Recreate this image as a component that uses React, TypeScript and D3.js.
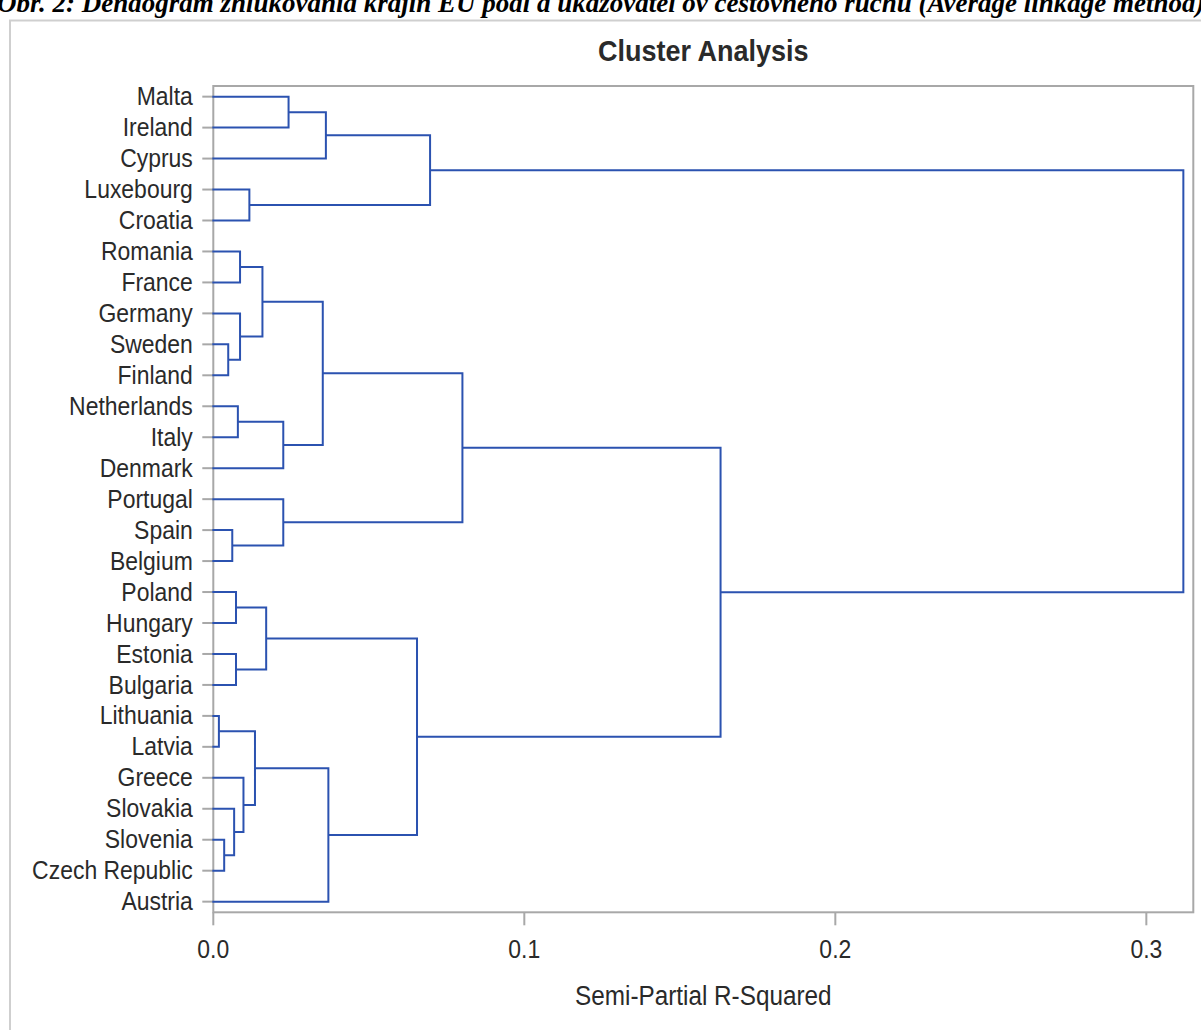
import React from "react";
import * as d3 from "d3";

// ---- data ----
const leaves: string[] = [
  "Malta", "Ireland", "Cyprus", "Luxebourg", "Croatia", "Romania", "France",
  "Germany", "Sweden", "Finland", "Netherlands", "Italy", "Denmark", "Portugal",
  "Spain", "Belgium", "Poland", "Hungary", "Estonia", "Bulgaria", "Lithuania",
  "Latvia", "Greece", "Slovakia", "Slovenia", "Czech Republic", "Austria",
];

const mergeIds: string[] = [
  "CL1", "CL2", "CL3", "CL4", "CL5", "CL6", "CL7", "CL8", "CL9", "CL10", "CL11",
  "CL12", "CL13", "CL14", "CL15", "CL16", "CL17", "CL18", "CL19", "CL20", "CL21",
  "CL22", "CL23", "CL24", "CL25", "CL26",
];
const mergeLeft: string[] = [
  "Lithuania", "Slovenia", "Sweden", "Spain", "Slovakia", "Poland", "Estonia",
  "Netherlands", "Romania", "Germany", "Greece", "Luxebourg", "CL1", "CL9", "CL6",
  "CL8", "Portugal", "Malta", "CL14", "CL18", "CL13", "CL15", "CL20", "CL19",
  "CL24", "CL23",
];
const mergeRight: string[] = [
  "Latvia", "Czech Republic", "Finland", "Belgium", "CL2", "Hungary", "Bulgaria",
  "Italy", "France", "CL3", "CL5", "Croatia", "CL11", "CL10", "CL7", "Denmark",
  "CL4", "Ireland", "CL16", "Cyprus", "Austria", "CL21", "CL12", "CL17", "CL22",
  "CL25",
];
const mergeHeight: number[] = [
  0.0018, 0.0035, 0.0048, 0.0061, 0.0067, 0.0073, 0.0073, 0.0079, 0.0086, 0.0086,
  0.0097, 0.0116, 0.0134, 0.0158, 0.0170, 0.0225, 0.0225, 0.0242, 0.0352, 0.0362,
  0.0370, 0.0655, 0.0697, 0.0801, 0.1631, 0.3119,
];

const xTicks: number[] = [0, 0.1, 0.2, 0.3];
const xDomainMax = 0.3151;

const captionText =
  "Obr. 2: Dendogram zhlukovania krajín EÚ podľa ukazovateľov cestovného ruchu (Average linkage method)";
const titleText = "Cluster Analysis";
const xLabelText = "Semi-Partial R-Squared";

// ---- layout ----
const W = 1201;
const H = 1030;
const PL = 213.3;
const PR = 1193.3;
const PT = 86;
const PB = 912.3;

const LINE = "#2b52b0";
const AXIS = "#a8a8a8";
const TEXT = "#2a2a2a";
const FONT = "'Liberation Sans', Arial, sans-serif";
const SX = 0.9;

type TNode = { id: string; height: number; children?: TNode[] };

export default function App() {
  const x = d3.scaleLinear().domain([0, xDomainMax]).range([PL, PR]);
  const y = d3.scalePoint<string>().domain(leaves).range([PT, PB]).padding(0.344);

  const map = new Map<string, TNode>();
  leaves.forEach((l) => map.set(l, { id: l, height: 0 }));
  mergeIds.forEach((id, i) => {
    map.set(id, {
      id,
      height: mergeHeight[i],
      children: [map.get(mergeLeft[i])!, map.get(mergeRight[i])!],
    });
  });
  const root = d3.hierarchy<TNode>(map.get(mergeIds[mergeIds.length - 1])!);
  const ypos = new Map<any, number>();
  root.eachAfter((n) => {
    if (n.children) ypos.set(n, d3.mean(n.children, (c) => ypos.get(c)!)!);
    else ypos.set(n, y(n.data.id)!);
  });

  const p = d3.path();
  root.links().forEach(({ source, target }) => {
    const cy = ypos.get(target)!;
    const py = ypos.get(source)!;
    p.moveTo(x(target.data.height), cy);
    p.lineTo(x(source.data.height), cy);
    p.lineTo(x(source.data.height), py);
  });

  const fmt = d3.format(".1f");

  return (
    <div style={{ position: "absolute", left: 0, top: 0, width: W, height: H, background: "#fff" }}>
      <svg width={W} height={H} style={{ display: "block" }}>
        <rect x={0} y={0} width={W} height={H} fill="#fff" />
        <text
          x={-3}
          y={12}
          fontFamily="'Liberation Serif', 'Times New Roman', serif"
          fontWeight="bold"
          fontStyle="italic"
          fontSize={27}
          fill="#000"
        >
          {captionText}
        </text>
        {/* outer frame */}
        <rect x={10} y={20.5} width={W + 20} height={H + 20} fill="none" stroke="#cfcfcf" strokeWidth={2} />
        {/* title */}
        <text
          transform={`translate(${(PL + PR) / 2},61) scale(${SX},1)`}
          textAnchor="middle"
          fontFamily={FONT}
          fontWeight="bold"
          fontSize={30}
          fill={TEXT}
        >
          {titleText}
        </text>
        {/* plot frame */}
        <rect x={PL} y={PT} width={PR - PL} height={PB - PT} fill="none" stroke={AXIS} strokeWidth={2} />
        {/* leaf ticks and labels */}
        {leaves.map((l) => (
          <g key={l}>
            <line x1={PL - 11} x2={PL} y1={y(l)} y2={y(l)} stroke={AXIS} strokeWidth={2} />
            <text
              transform={`translate(${PL - 20.5},${y(l)! + 8.6}) scale(${SX},1)`}
              textAnchor="end"
              fontFamily={FONT}
              fontSize={25.5}
              fill={TEXT}
            >
              {l}
            </text>
          </g>
        ))}
        {/* x ticks */}
        {xTicks.map((t) => (
          <g key={t}>
            <line x1={x(t)} x2={x(t)} y1={PB} y2={PB + 13} stroke={AXIS} strokeWidth={2} />
            <text
              transform={`translate(${x(t)},958) scale(${SX},1)`}
              textAnchor="middle"
              fontFamily={FONT}
              fontSize={25.5}
              fill={TEXT}
            >
              {fmt(t)}
            </text>
          </g>
        ))}
        <text
          transform={`translate(${(PL + PR) / 2},1005) scale(${SX},1)`}
          textAnchor="middle"
          fontFamily={FONT}
          fontSize={27}
          fill={TEXT}
        >
          {xLabelText}
        </text>
        {/* dendrogram */}
        <path d={p.toString()} fill="none" stroke={LINE} strokeWidth={2} strokeLinecap="square" />
      </svg>
    </div>
  );
}
